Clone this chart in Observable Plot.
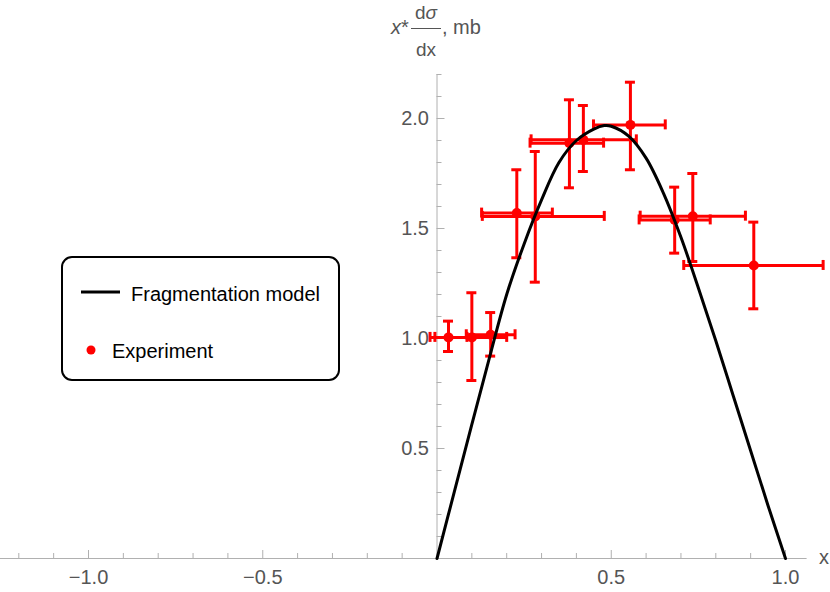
<!DOCTYPE html>
<html>
<head>
<meta charset="utf-8">
<script src="https://cdn.jsdelivr.net/npm/d3@7"></script>
<script src="https://cdn.jsdelivr.net/npm/@observablehq/plot@0.6"></script>
<style>
  html, body { margin: 0; padding: 0; background: #fff; }
  #wrap { position: relative; width: 830px; height: 592px; font-family: "Liberation Sans", Arimo, Arial, sans-serif; }
  #overlay { position: absolute; left: 0; top: 0; pointer-events: none; }
</style>
</head>
<body>
<div id="wrap"></div>
<script>
// ---- Data ----
// Fragmentation model curve
const modelX = [0, 0.05, 0.1, 0.15, 0.2, 0.25, 0.3, 0.35, 0.4, 0.45, 0.48, 0.5, 0.55, 0.6, 0.65, 0.7, 0.75, 0.8, 0.85, 0.9, 0.95, 1.0];
const modelY = [0, 0.305, 0.61, 0.91, 1.2, 1.43, 1.63, 1.80, 1.90, 1.952, 1.968, 1.965, 1.92, 1.82, 1.66, 1.46, 1.23, 0.99, 0.74, 0.49, 0.24, 0];

// Experiment points with error bars
const expX   = [0.033, 0.100, 0.154, 0.229, 0.282, 0.380, 0.420, 0.555, 0.682, 0.734, 0.909];
const expY   = [1.005, 1.005, 1.017, 1.570, 1.555, 1.888, 1.903, 1.971, 1.539, 1.556, 1.332];
const expYLo = [0.941, 0.809, 0.920, 1.367, 1.256, 1.685, 1.759, 1.767, 1.388, 1.350, 1.135];
const expYHi = [1.079, 1.208, 1.118, 1.767, 1.850, 2.085, 2.059, 2.165, 1.688, 1.750, 1.529];
const expXLo = [-0.020, -0.006, 0.084, 0.128, 0.130, 0.267, 0.270, 0.449, 0.580, 0.583, 0.708];
const expXHi = [0.086, 0.200, 0.224, 0.331, 0.480, 0.478, 0.572, 0.655, 0.784, 0.885, 1.108];

// Axis ticks
const xMajor = [-1.0, -0.5, 0.5, 1.0];
const xMajorLabels = ["\u22121.0", "\u22120.5", "0.5", "1.0"];
const xMinor = [-1.2, -1.1, -0.9, -0.8, -0.7, -0.6, -0.4, -0.3, -0.2, -0.1, 0.1, 0.2, 0.3, 0.4, 0.6, 0.7, 0.8, 0.9];
const yMajor = [0.5, 1.0, 1.5, 2.0];
const yMajorLabels = ["0.5", "1.0", "1.5", "2.0"];
const yMinor = [0.1, 0.2, 0.3, 0.4, 0.6, 0.7, 0.8, 0.9, 1.1, 1.2, 1.3, 1.4, 1.6, 1.7, 1.8, 1.9, 2.1, 2.2];

// ---- Build tables ----
const model = modelX.map((x, i) => ({x, y: modelY[i]}));
const exp = expX.map((x, i) => ({x, y: expY[i], yLo: expYLo[i], yHi: expYHi[i], xLo: expXLo[i], xHi: expXHi[i]}));

const W = 830, H = 592;
const pxPerX = 348.5, pxPerY = 220, x0px = 436.5, y0px = 558;
const xDomain = [-x0px / pxPerX, (W - x0px) / pxPerX];
const yDomain = [(y0px - H) / pxPerY, y0px / pxPerY];
const xAxisEnd = 1.062, yAxisEnd = 2.2;
const capX = 5 / pxPerX, capY = 5 / pxPerY;
const tickMajY = 8 / pxPerY, tickMinY = 5 / pxPerY;
const tickMajX = 8 / pxPerX, tickMinX = 5 / pxPerX;

const axisColor = "#b0b0b0", textColor = "#555";
const font = "'Liberation Sans', Arimo, Arial, sans-serif";
const red = "#ff0000";

const chart = Plot.plot({
  width: W, height: H, margin: 0,
  style: {fontFamily: font, background: "white"},
  x: {domain: xDomain, axis: null},
  y: {domain: yDomain, axis: null},
  marks: [
    // axes
    Plot.ruleY([0], {x1: xDomain[0], x2: xAxisEnd, stroke: axisColor, strokeWidth: 1}),
    Plot.ruleX([0], {y1: 0, y2: yAxisEnd, stroke: axisColor, strokeWidth: 1}),
    Plot.ruleX(xMinor, {x: d => d, y1: 0, y2: tickMinY, stroke: axisColor}),
    Plot.ruleX(xMajor, {x: d => d, y1: 0, y2: tickMajY, stroke: axisColor}),
    Plot.ruleY(yMinor, {y: d => d, x1: 0, x2: tickMinX, stroke: axisColor}),
    Plot.ruleY(yMajor, {y: d => d, x1: 0, x2: tickMajX, stroke: axisColor}),
    Plot.text(xMajor, {x: d => d, y: 0, text: (d, i) => xMajorLabels[i], dy: 19, fill: textColor, fontSize: 20}),
    Plot.text(yMajor, {x: 0, y: d => d, text: (d, i) => yMajorLabels[i], textAnchor: "end", dx: -8, fill: textColor, fontSize: 20}),
    Plot.text(["x"], {x: xAxisEnd, y: 0, text: d => d, dx: 17, dy: -1, fill: textColor, fontSize: 20}),
    // error bars
    Plot.ruleX(exp, {x: "x", y1: "yLo", y2: "yHi", stroke: red, strokeWidth: 3}),
    Plot.ruleY(exp, {y: "y", x1: "xLo", x2: "xHi", stroke: red, strokeWidth: 3}),
    Plot.ruleY(exp, {y: "yLo", x1: d => d.x - capX, x2: d => d.x + capX, stroke: red, strokeWidth: 3}),
    Plot.ruleY(exp, {y: "yHi", x1: d => d.x - capX, x2: d => d.x + capX, stroke: red, strokeWidth: 3}),
    Plot.ruleX(exp, {x: "xLo", y1: d => d.y - capY, y2: d => d.y + capY, stroke: red, strokeWidth: 3}),
    Plot.ruleX(exp, {x: "xHi", y1: d => d.y - capY, y2: d => d.y + capY, stroke: red, strokeWidth: 3}),
    Plot.dot(exp, {x: "x", y: "y", r: 5, fill: red, stroke: "none"}),
    // model curve
    Plot.line(model, {x: "x", y: "y", stroke: "black", strokeWidth: 3, curve: "catmull-rom"})
  ]
});
const wrap = document.getElementById("wrap");
wrap.appendChild(chart);

// Overlay: axis label and legend (text kept as real text)
const ns = "http://www.w3.org/2000/svg";
const ov = document.createElementNS(ns, "svg");
ov.setAttribute("id", "overlay");
ov.setAttribute("width", W);
ov.setAttribute("height", H);
ov.innerHTML = `
  <g font-family="${font}" fill="${textColor}">
    <text x="391" y="34" font-size="20"><tspan font-style="italic">x</tspan>*</text>
    <text x="426" y="19" font-size="19" text-anchor="middle">d<tspan font-style="italic">σ</tspan></text>
    <line x1="411" x2="441" y1="28.5" y2="28.5" stroke="${textColor}" stroke-width="1"/>
    <text x="426" y="56" font-size="19" text-anchor="middle">dx</text>
    <text x="442" y="34" font-size="20">, mb</text>
  </g>
  <g font-family="${font}">
    <rect x="62" y="257" width="277" height="123" rx="10" ry="10" fill="white" stroke="black" stroke-width="2"/>
    <line x1="81" x2="120" y1="292" y2="292" stroke="black" stroke-width="3"/>
    <text x="131" y="301" font-size="20" fill="black">Fragmentation model</text>
    <circle cx="91" cy="350" r="4.5" fill="${red}"/>
    <text x="112" y="358" font-size="20" fill="black">Experiment</text>
  </g>`;
wrap.appendChild(ov);
</script>
</body>
</html>
